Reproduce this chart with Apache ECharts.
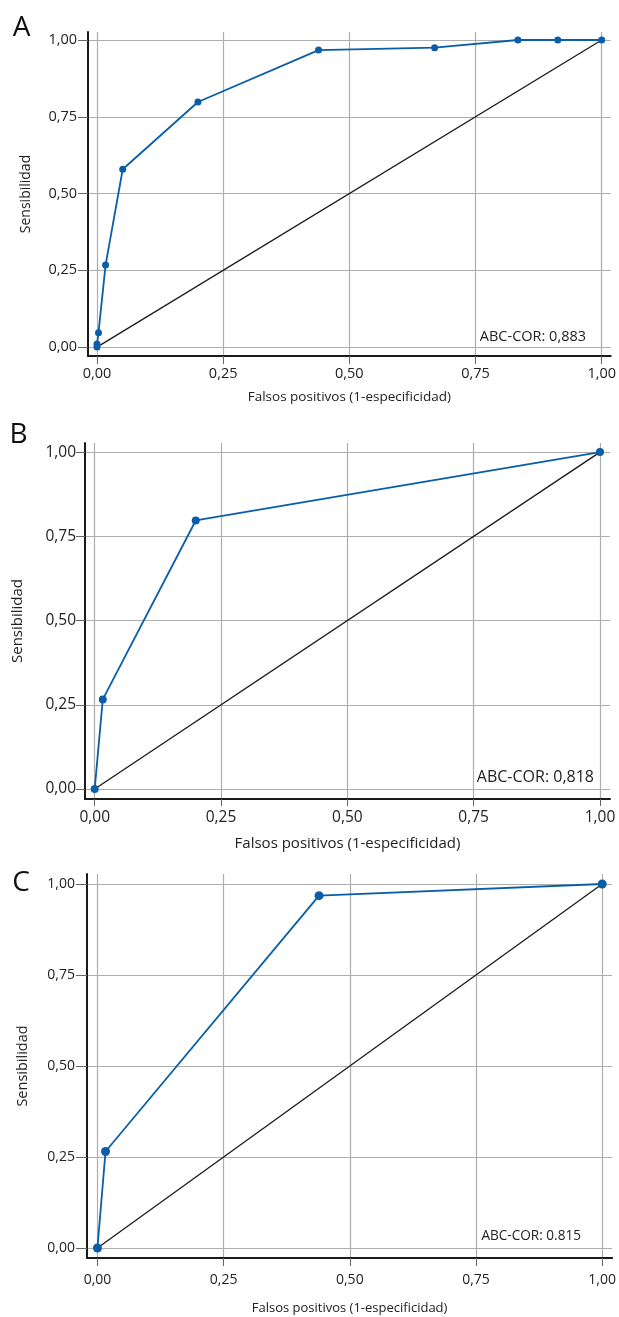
<!DOCTYPE html>
<html>
<head>
<meta charset="utf-8">
<script src="https://cdn.jsdelivr.net/npm/echarts@6/dist/echarts.min.js"></script>
<style>
  html, body { margin: 0; padding: 0; background: #fff; }
  #chart { width: 619px; height: 1317px; }
</style>
</head>
<body>
<div id="chart"></div>
<script>
// tick values shared by both axes of every panel
const tickValues = [0, 0.25, 0.5, 0.75, 1];

// panel A
const fprA = [0, 0, 0.003, 0.017, 0.051, 0.2, 0.439, 0.669, 0.834, 0.913, 1];
const tprA = [0, 0.01, 0.047, 0.267, 0.579, 0.798, 0.967, 0.975, 1, 1, 1];
// panel B
const fprB = [0, 0.016, 0.2, 1];
const tprB = [0, 0.266, 0.797, 1];
// panel C
const fprC = [0, 0.016, 0.439, 1];
const tprC = [0, 0.265, 0.968, 1];

// reference diagonal
const diagX = [0, 1];
const diagY = [0, 1];

const panelLetters = ["A", "B", "C"];
const aucLabels = ["ABC-COR: 0,883", "ABC-COR: 0,818", "ABC-COR: 0.815"];
const xName = "Falsos positivos (1-especificidad)";
const yName = "Sensibilidad";

const BLUE = "#0a5ea8";
const FONT = "'Open Sans', 'Noto Sans', sans-serif";

// layout per panel (pixels / axis extents)
const panels = [
  {
    fpr: fprA, tpr: tprA,
    grid: { left: 88, top: 32, width: 524, height: 324 },
    x: [-0.0178, 1.0178], y: [-0.029, 1.026],
    labelSize: 14.5, nameSize: 13.5, yNameSize: 14, aucSize: 14.5,
    xMargin: 10, yMargin: 11, xTick: 8, yTick: 10,
    xGap: 34, yGap: 55, dot: 7,
    letter: [21.5, 28], auc: [586, 337],
  },
  {
    fpr: fprB, tpr: tprB,
    grid: { left: 85, top: 443, width: 525, height: 356 },
    x: [-0.0192, 1.0198], y: [-0.0297, 1.027],
    labelSize: 15.5, nameSize: 15, yNameSize: 15, aucSize: 16,
    xMargin: 11, yMargin: 9, xTick: 7, yTick: 9,
    xGap: 37, yGap: 60, dot: 8,
    letter: [18.5, 435], auc: [594, 777],
  },
  {
    fpr: fprC, tpr: tprC,
    grid: { left: 87, top: 874, width: 527, height: 384 },
    x: [-0.0207, 1.0197], y: [-0.0275, 1.0275],
    labelSize: 14, nameSize: 13, yNameSize: 14.5, aucSize: 13.6,
    xMargin: 15, yMargin: 12, xTick: 8, yTick: 11,
    xGap: 44, yGap: 57, dot: 9,
    letter: [21, 883], auc: [581, 1236],
  },
];

const fmt = (v) => v.toFixed(2).replace(".", ",");

const grids = [];
const xAxes = [];
const yAxes = [];
const series = [];
const graphics = [];

panels.forEach((p, i) => {
  grids.push(p.grid);

  const common = (tickLen, size, margin) => ({
    type: "value",
    gridIndex: i,
    axisLine: { show: true, onZero: false, lineStyle: { color: "#1a1a1a", width: 2 } },
    axisTick: {
      show: true,
      customValues: tickValues,
      length: tickLen,
      lineStyle: { color: "#666", width: 1 },
    },
    axisLabel: {
      customValues: tickValues,
      formatter: fmt,
      color: "#222",
      fontFamily: FONT,
      fontSize: size,
      margin: margin,
    },
    splitLine: { show: true, lineStyle: { color: "#aeaeae", width: 1.2 } },
  });

  xAxes.push(
    Object.assign(common(p.xTick, p.labelSize, p.xMargin), {
      min: p.x[0],
      max: p.x[1],
      name: xName,
      nameLocation: "middle",
      nameGap: p.xGap,
      nameTextStyle: { color: "#222", fontFamily: FONT, fontSize: p.nameSize },
    })
  );
  yAxes.push(
    Object.assign(common(p.yTick, p.labelSize, p.yMargin), {
      min: p.y[0],
      max: p.y[1],
      name: yName,
      nameLocation: "middle",
      nameGap: p.yGap,
      nameTextStyle: { color: "#222", fontFamily: FONT, fontSize: p.yNameSize },
    })
  );

  series.push({
    type: "line",
    xAxisIndex: i,
    yAxisIndex: i,
    data: diagX.map((x, k) => [x, diagY[k]]),
    symbol: "none",
    lineStyle: { color: "#1a1a1a", width: 1.3 },
    silent: true,
    animation: false,
  });
  series.push({
    type: "line",
    xAxisIndex: i,
    yAxisIndex: i,
    data: p.fpr.map((x, k) => [x, p.tpr[k]]),
    symbol: "circle",
    symbolSize: p.dot,
    itemStyle: { color: BLUE },
    lineStyle: { color: BLUE, width: 1.8 },
    animation: false,
  });

  graphics.push({
    type: "text",
    style: {
      text: panelLetters[i],
      x: p.letter[0],
      y: p.letter[1],
      align: "center",
      verticalAlign: "middle",
      fontFamily: FONT,
      fontSize: 28,
      fill: "#111",
    },
  });
  graphics.push({
    type: "text",
    style: {
      text: aucLabels[i],
      x: p.auc[0],
      y: p.auc[1],
      align: "right",
      verticalAlign: "middle",
      fontFamily: FONT,
      fontSize: p.aucSize,
      fill: "#222",
    },
  });
});

const chart = echarts.init(document.getElementById("chart"));
chart.setOption({
  backgroundColor: "#fff",
  animation: false,
  grid: grids,
  xAxis: xAxes,
  yAxis: yAxes,
  series: series,
  graphic: graphics,
});
</script>
</body>
</html>
